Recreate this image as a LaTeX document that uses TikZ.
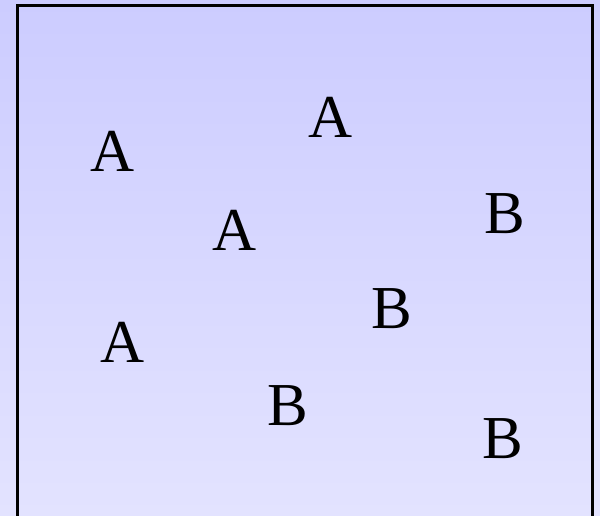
\documentclass[tikz,border=0pt]{standalone}
\usepackage{fontspec}
\setmainfont{Liberation Serif}
\begin{document}
\begin{tikzpicture}[
  x=1pt, y=-1pt,
  letra/.style={inner sep=0pt, anchor=base, font=\fontsize{61}{61}\selectfont},
  marco/.style={draw=black, line width=3pt}
]
\useasboundingbox (0,0) rectangle (600,515);
\shade[top color=blue!20, bottom color=blue!11] (0,0) rectangle (600,515);
\coordinate (tl) at (17,5);
\coordinate (br) at (592,540);
\draw[marco] (tl) rectangle (br);
\node[letra] (a1) at (113,171) {A};
\node[letra] (a2) at (331,137) {A};
\node[letra] (a3) at (235,250) {A};
\node[letra] (a4) at (123,362) {A};
\node[letra] (b1) at (505,233) {B};
\node[letra] (b2) at (392,328) {B};
\node[letra] (b3) at (288,425) {B};
\node[letra] (b4) at (503,458) {B};
\end{tikzpicture}
\end{document}
